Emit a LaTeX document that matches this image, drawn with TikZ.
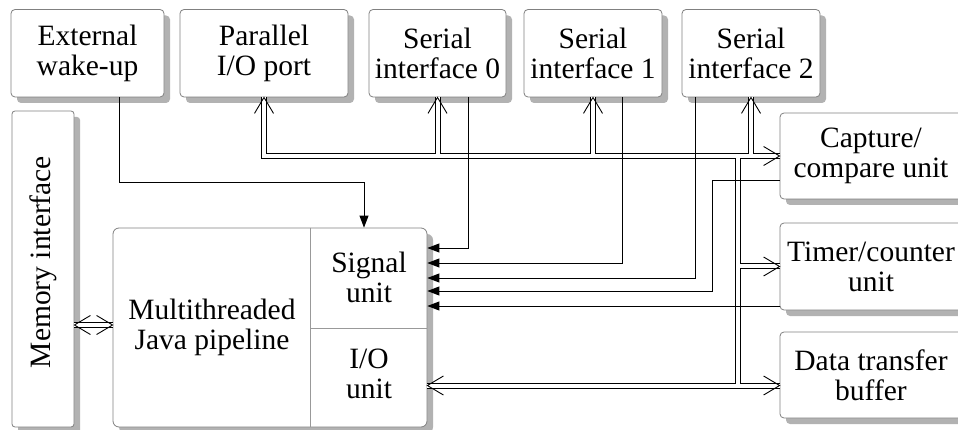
\documentclass[tikz,border=0pt]{standalone}
\usepackage{fontspec}
\setmainfont{Liberation Serif}
\newfontfamily\refserif{Liberation Serif}
\usetikzlibrary{arrows.meta,shadows,calc}
\begin{document}
\begin{tikzpicture}[x=1pt,y=-1pt,
  font=\refserif\fontsize{29.5}{30}\selectfont,
  box/.style={draw=black!50, line width=0.8pt, fill=white, rounded corners=4pt,
    align=center, inner sep=0pt,
    drop shadow={shadow xshift=6pt, shadow yshift=-6pt, fill=black!30, opacity=1}},
  lbl/.style={align=center, inner sep=0pt},
  busout/.style={line width=6pt, black, line join=miter},
  busin/.style={line width=4pt, white, line join=miter},
  sigarrow/.style={line width=0.9pt, -{Triangle[length=12pt,width=9pt]}},
  divider/.style={draw=black!40, line width=0.8pt},
  chevR/.pic={\draw[line width=0.9pt] (-16,-9.5) -- (0,0) -- (-16,9.5);},
  chevL/.pic={\draw[line width=0.9pt] (16,-9.5) -- (0,0) -- (16,9.5);},
  chevU/.pic={\draw[line width=0.9pt] (-9.5,16) -- (0,0) -- (9.5,16);}
]
\useasboundingbox (0,0) rectangle (958,430);
\clip (0,0) rectangle (958,430);
\fill[white] (0,0) rectangle (958,430);

% top boxes
\node[box, minimum width=153pt, minimum height=87.5pt] (ext)  at (87.5,53.25) {External\\wake-up};
\node[box, minimum width=168pt, minimum height=87.5pt] (par)  at (264,53.25)  {Parallel\\I/O port};
\node[box, minimum width=137pt, minimum height=87.5pt] (ser0) at (437.5,53.25) {Serial\\interface 0};
\node[box, minimum width=138pt, minimum height=87.5pt] (ser1) at (593,53.25)  {Serial\\interface 1};
\node[box, minimum width=138pt, minimum height=87.5pt] (ser2) at (751,53.25)  {Serial\\interface 2};

% right boxes
\node[box, minimum width=182pt, minimum height=86pt] (cap) at (871,156)   {Capture/\\compare unit};
\node[box, minimum width=182pt, minimum height=87pt] (tim) at (871,266.5) {Timer/counter\\unit};
\node[box, minimum width=182pt, minimum height=86pt] (dat) at (871,375)   {Data transfer\\buffer};

% memory interface
\node[box, rounded corners=3pt, minimum width=62pt, minimum height=316pt] (mem) at (43,269) {};
\node[lbl, rotate=90] (memtxt) at (43,262) {Memory interface};

% main block
\node[box, rounded corners=6pt, minimum width=314pt, minimum height=199pt] (main) at (270,327.5) {};
\draw[divider] ($(main.north west)+(198,0)$) -- ($(main.south west)+(198,0)$);
\draw[divider] ($(main.west)+(198,0.5)$) -- ($(main.east)+(0,0.5)$);
\node[lbl] (pipe) at (212,327) {Multithreaded\\Java pipeline};
\node[lbl] (sigt) at (369,277) {Signal\\unit};
\node[lbl] (iot)  at (369,374) {I/O\\unit};

% bus junction coordinates
\coordinate (bj) at (737.5,156);
\coordinate (ioin) at ($(main.east)+(0,58)$);
\coordinate (mref) at (90,325);

\newcommand\buspaths[1]{%
  \draw[#1] (par.south) -- (par.south |- cap.west) -- (cap.west);
  \draw[#1] (ser0.south) -- (ser0.south |- cap.west);
  \draw[#1] (ser1.south) -- (ser1.south |- cap.west);
  \draw[#1] (ser2.south) -- (ser2.south |- cap.west);
  \draw[#1] (bj) -- (bj |- ioin);
  \draw[#1] (bj |- tim.west) -- (tim.west);
  \draw[#1] (ioin) -- (dat.west |- ioin);
  \draw[#1] (mem.east |- mref) -- (main.west |- mref);
}
\buspaths{busout}
\buspaths{busin}

% chevrons
\pic at (par.south)  {chevU};
\pic at (ser0.south) {chevU};
\pic at (ser1.south) {chevU};
\pic at (ser2.south) {chevU};
\pic at (cap.west)   {chevR};
\pic at (tim.west)   {chevR};
\pic at (dat.west |- ioin) {chevR};
\pic at (ioin)       {chevL};
\pic at (mem.east |- mref)  {chevL};
\pic at (main.west |- mref) {chevR};

% signal lines
\draw[sigarrow] ([xshift=31.5pt]ext.south) -- ++(0,85) -| ([xshift=-5pt]sigt.north |- main.north);
\draw[sigarrow] ([xshift=30.5pt]ser0.south) |- ($(main.east)+(0,-79.5)$);
\draw[sigarrow] ([xshift=29pt]ser1.south) |- ($(main.east)+(0,-64.5)$);
\draw[sigarrow] ([xshift=-56pt]ser2.south) |- ($(main.east)+(0,-49.5)$);
\draw[sigarrow] ($(cap.west)+(0,24)$) -- ++(-67,0) |- ($(main.east)+(0,-36.5)$);
\draw[sigarrow] ($(tim.west)+(0,39.5)$) -- ($(main.east)+(0,-21.5)$);
\end{tikzpicture}
\end{document}
